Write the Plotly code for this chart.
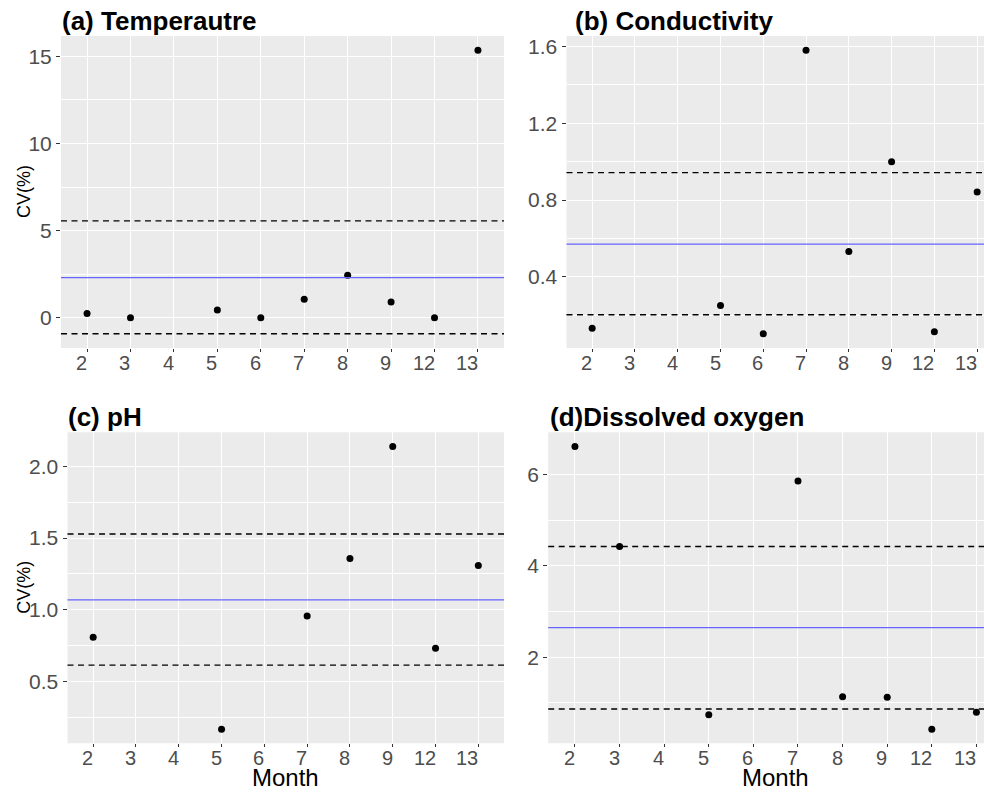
import plotly.graph_objects as go

# Month categories shown on every panel
months = ["2", "3", "4", "5", "6", "7", "8", "9", "12", "13"]

# Coefficient of variation (%) per month, one series per variable
temp_months = ["2", "3", "5", "6", "7", "8", "9", "12", "13"]
temp_cv = [0.25, 0.0, 0.44, 0.0, 1.06, 2.44, 0.90, 0.0, 15.35]
temp_mean, temp_upper, temp_lower = 2.30, 5.56, -0.92

cond_months = ["2", "5", "6", "7", "8", "9", "12", "13"]
cond_cv = [0.132, 0.251, 0.103, 1.581, 0.532, 1.000, 0.114, 0.842]
cond_mean, cond_upper, cond_lower = 0.570, 0.943, 0.202

ph_months = ["2", "5", "7", "8", "9", "12", "13"]
ph_cv = [0.808, 0.167, 0.956, 1.358, 2.139, 0.731, 1.308]
ph_mean, ph_upper, ph_lower = 1.069, 1.528, 0.614

do_months = ["2", "3", "5", "7", "8", "9", "12", "13"]
do_cv = [6.61, 4.42, 0.743, 5.854, 1.135, 1.122, 0.425, 0.795]
do_mean, do_upper, do_lower = 2.647, 4.42, 0.867

W, H = 984, 793
FONT = "Liberation Sans, Arial, sans-serif"


def px_x(v):
    return v / W


def px_y(v):
    return 1 - v / H


panels = [
    dict(title="<b>(a) Temperautre</b>", m=temp_months, v=temp_cv, mean=temp_mean,
         up=temp_upper, lo=temp_lower, xd=(61, 504), yd=(36, 348), xend=9.6,
         dt=5, mdt=2.5, fmt="d", tx=61),
    dict(title="<b>(b) Conductivity</b>", m=cond_months, v=cond_cv, mean=cond_mean,
         up=cond_upper, lo=cond_lower, xd=(566.5, 984), yd=(36, 348), xend=9.16,
         dt=0.4, mdt=0.2, fmt=".1f", tx=574),
    dict(title="<b>(c) pH</b>", m=ph_months, v=ph_cv, mean=ph_mean,
         up=ph_upper, lo=ph_lower, xd=(67.5, 504), yd=(432.3, 743.3), xend=9.6,
         dt=0.5, mdt=0.25, fmt=".1f", tx=67),
    dict(title="<b>(d)Dissolved oxygen</b>", m=do_months, v=do_cv, mean=do_mean,
         up=do_upper, lo=do_lower, xd=(548.2, 984), yd=(432.3, 743.3), xend=9.17,
         dt=2, mdt=1, fmt="d", tx=549),
]

fig = go.Figure()
annotations = []
shapes = []

for i, p in enumerate(panels, start=1):
    xa = "x" if i == 1 else f"x{i}"
    ya = "y" if i == 1 else f"y{i}"
    xkey = "xaxis" if i == 1 else f"xaxis{i}"
    ykey = "yaxis" if i == 1 else f"yaxis{i}"

    allv = p["v"] + [p["up"], p["lo"], p["mean"]]
    lo_v, hi_v = min(allv), max(allv)
    pad = (hi_v - lo_v) * 0.05
    yrange = [lo_v - pad, hi_v + pad]

    fig.add_trace(go.Scatter(
        x=p["m"], y=p["v"], mode="markers", xaxis=xa, yaxis=ya,
        marker=dict(color="black", size=7), showlegend=False,
    ))

    # mean line and dashed limits across the full panel width
    for yv, col, dash, w in [(p["up"], "black", "6px,4.5px", 1.4),
                             (p["lo"], "black", "6px,4.5px", 1.4),
                             (p["mean"], "rgb(100,100,255)", "solid", 1.2)]:
        shapes.append(dict(type="line", xref=f"{xa} domain", yref=ya,
                           x0=0, x1=1, y0=yv, y1=yv,
                           line=dict(color=col, width=w, dash=dash), layer="above"))

    fig.update_layout(**{
        xkey: dict(
            domain=[px_x(p["xd"][0]), px_x(p["xd"][1])], anchor=ya,
            type="category", categoryorder="array", categoryarray=months,
            range=[-0.6, p["xend"]], showgrid=True, gridcolor="white", gridwidth=1.2,
            ticks="outside", ticklen=3, tickcolor="#333333", tickwidth=1,
            showticklabels=False,
            showline=False, zeroline=False, fixedrange=True,
        ),
        ykey: dict(
            domain=[px_y(p["yd"][1]), px_y(p["yd"][0])], anchor=xa,
            range=yrange, tick0=0, dtick=p["dt"], tickformat=p["fmt"],
            showgrid=True, gridcolor="white", gridwidth=1.2,
            minor=dict(tick0=0, dtick=p["mdt"], showgrid=True, gridcolor="white",
                       gridwidth=0.6, ticks=""),
            ticks="outside", ticklen=4, tickcolor="#333333", tickwidth=1,
            tickfont=dict(family=FONT, size=21, color="#4D4D4D"),
            showline=False, zeroline=False, fixedrange=True,
        ),
    })

    # month labels, right-aligned to each category tick (category axes position by index)
    for k, m in enumerate(months):
        annotations.append(dict(
            text=m, xref=xa, yref=f"{ya} domain", x=k, y=0,
            xanchor="right", yanchor="top", yshift=-2, xshift=2, showarrow=False,
            font=dict(family=FONT, size=20, color="#4D4D4D"),
        ))

    # grey panel background
    shapes.append(dict(type="rect", xref=f"{xa} domain", yref=f"{ya} domain",
                       x0=0, x1=1, y0=0, y1=1, fillcolor="#EBEBEB",
                       line=dict(width=0), layer="below"))

    annotations.append(dict(
        text=p["title"], xref="paper", yref="paper",
        x=px_x(p["tx"] - 1), y=px_y(p["yd"][0] - 15), xanchor="left", yanchor="middle",
        showarrow=False, font=dict(family=FONT, size=26, color="black"),
    ))

# axis titles
for yc in [(36 + 348) / 2, (432.3 + 743.3) / 2]:
    annotations.append(dict(
        text="CV(%)", xref="paper", yref="paper", x=px_x(24), y=px_y(yc),
        xanchor="center", yanchor="middle", textangle=-90, showarrow=False,
        font=dict(family=FONT, size=18, color="black"),
    ))
for xc in [(67.5 + 504) / 2, 775.6]:
    annotations.append(dict(
        text="Month", xref="paper", yref="paper", x=px_x(xc), y=0,
        xanchor="center", yanchor="bottom", showarrow=False,
        font=dict(family=FONT, size=24, color="black"),
    ))

fig.update_layout(
    width=W, height=H, margin=dict(l=0, r=0, t=0, b=0),
    paper_bgcolor="white", plot_bgcolor="rgba(0,0,0,0)",
    shapes=shapes, annotations=annotations, showlegend=False,
)

fig.write_html("out.html")
